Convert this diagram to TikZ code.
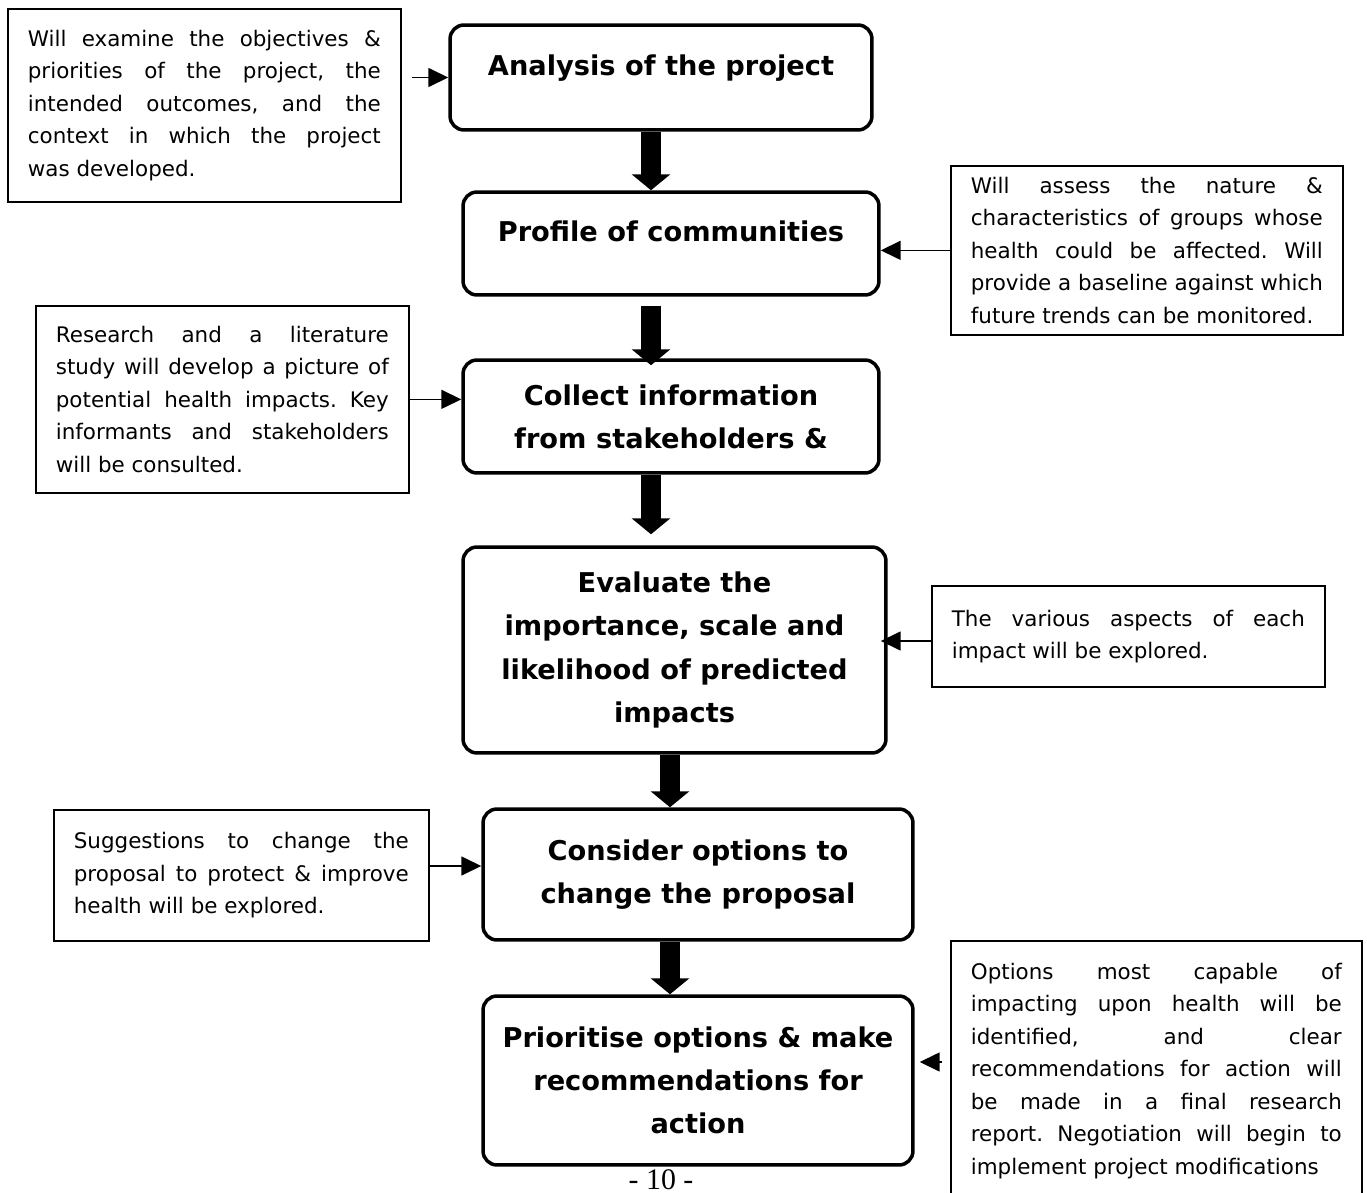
\documentclass[tikz,border=0pt]{standalone}
\usepackage{fontspec}
\setmainfont{DejaVu Sans}
\newfontfamily\pagefont{Liberation Serif}
\usepackage{tikz}
\usetikzlibrary{arrows.meta}
\tolerance=10000
\hbadness=10000
\hyphenpenalty=10000
\frenchspacing

\begin{document}
\begin{tikzpicture}[
  x=0.02cm, y=-0.02cm,
  stage/.style={draw, line width=2pt, rounded corners=0.28cm, align=center,
    inner sep=0pt, font=\fontsize{15.5}{24.5}\selectfont\bfseries},
  note/.style={draw, line width=1pt, anchor=north west, align=justify,
    inner xsep=0.4cm, inner ysep=0pt, font=\fontsize{12.2}{18.5}\selectfont},
  flow/.style={line width=0.4cm, -{Triangle[width=0.76cm,length=0.32cm]}},
  feed/.style={line width=0.9pt, -{Triangle[width=0.38cm,length=0.4cm]}}
]
  \useasboundingbox (0,0) rectangle (1367,1193);

  % stages
  \node[stage, minimum width=8.44cm, minimum height=2.1cm, text depth=14.5pt]
    (analysis) at (661,77.5) {Analysis of the project};
  \node[stage, minimum width=8.32cm, minimum height=2.06cm, text depth=14.5pt]
    (profile) at (671,243.5) {Profile of communities};
  \node[stage, minimum width=8.32cm, minimum height=2.26cm]
    (collect) at (671,416.5) {Collect information\\from stakeholders \&};
  \node[stage, minimum width=8.46cm, minimum height=4.12cm]
    (evaluate) at (674.5,650) {Evaluate the\\importance, scale and\\likelihood of predicted\\impacts};
  \node[stage, minimum width=8.6cm, minimum height=2.62cm]
    (consider) at (698,874.5) {Consider options to\\change the proposal};
  \node[stage, minimum width=8.6cm, minimum height=3.38cm]
    (prior) at (698,1080.5) {Prioritise options \& make\\recommendations for\\action};

  % notes
  \node[note, text width=7.06cm, minimum height=3.86cm] (noteA) at (7,8)
    {Will examine the objectives \&\linebreak priorities of the project, the\linebreak
     intended outcomes, and the\linebreak context in which the project\linebreak was developed.};
  \node[note, text width=7.04cm, minimum height=3.38cm] (noteB) at (950,165)
    {Will assess the nature \&\linebreak characteristics of groups whose\linebreak
     health could be affected. Will\linebreak provide a baseline against which\linebreak
     future trends can be monitored.};
  \node[note, text width=6.66cm, minimum height=3.74cm] (noteC) at (35,305)
    {Research and a literature\linebreak study will develop a picture of\linebreak
     potential health impacts. Key\linebreak informants and stakeholders\linebreak
     will be consulted.};
  \node[note, text width=7.06cm, minimum height=2.02cm] (noteD) at (931,585)
    {The various aspects of each\linebreak impact will be explored.};
  \node[note, text width=6.7cm, minimum height=2.62cm] (noteE) at (53,809)
    {Suggestions to change the\linebreak proposal to protect \& improve\linebreak
     health will be explored.};
  \node[note, text width=7.42cm, minimum height=5.2cm] (noteF) at (950,940)
    {Options most capable of\linebreak impacting upon health will be\linebreak
     identified, and clear\linebreak recommendations for action will\linebreak
     be made in a final research\linebreak report. Negotiation will begin to\linebreak
     implement project modifications};

  % thick arrows
  \draw[flow] (analysis.south -| 651,0) -- (profile.north -| 651,0);
  \draw[flow, shorten <=0.18cm, shorten >=-0.14cm] (profile.south -| 651,0) -- (collect.north -| 651,0);
  \draw[flow, shorten >=0.22cm] (collect.south -| 651,0) -- (evaluate.north -| 651,0);
  \draw[flow] (evaluate.south -| 670,0) -- (consider.north -| 670,0);
  \draw[flow] (consider.south -| 670,0) -- (prior.north -| 670,0);

  % note arrows
  \draw[feed, shorten <=0.2cm] (noteA.east |- analysis.west) -- (analysis.west);
  \draw[feed] (noteB.west) -- (noteB.west -| profile.east);
  \draw[feed] (noteC.east) -- (noteC.east -| collect.west);
  \draw[feed, shorten >=-0.14cm] (noteD.west |- 0,641) -- (evaluate.east |- 0,641);
  \draw[feed] (noteE.east |- 0,866) -- (consider.west |- 0,866);
  \draw[feed, shorten <=0.16cm, shorten >=0.1cm] (noteF.west |- 0,1062) -- (prior.east |- 0,1062);

  % page number
  \node[anchor=base, font=\pagefont\fontsize{17}{20}\selectfont] (pagenum) at (661,1189) {- 10 -};
\end{tikzpicture}
\end{document}
